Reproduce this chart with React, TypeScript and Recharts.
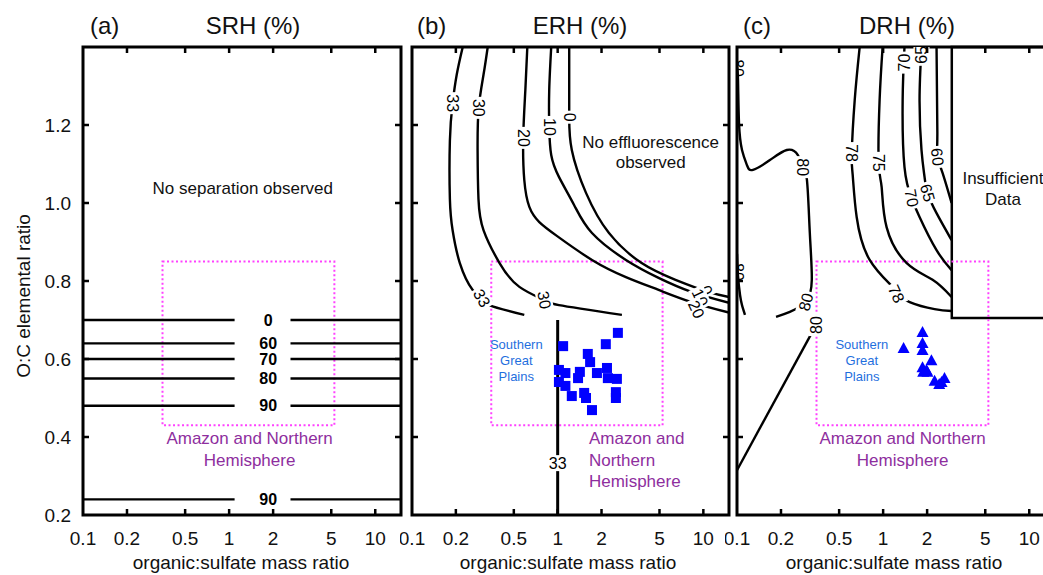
import React from "react";
import { ComposedChart, XAxis, YAxis, Line, Scatter, ReferenceArea } from "recharts";

type Pt = { x: number; y: number };
type Lbl = { x: number; y: number; t: string; a?: number };

// shared axes
const X_DOMAIN = [0.1, 15];
const Y_DOMAIN = [0.2, 1.4];
const X_TICKS = [0.1, 0.2, 0.5, 1, 2, 5, 10];
const Y_TICKS = [0.2, 0.4, 0.6, 0.8, 1.0, 1.2];

// "Amazon and Northern Hemisphere" range (dotted box)
const AMAZON_BOX = { x1: 0.35, x2: 5.25, y1: 0.43, y2: 0.85 };

// (a) SRH: flat contours, broken around the label
const srhLevels = [
  { t: "0", y: 0.7 },
  { t: "60", y: 0.64 },
  { t: "70", y: 0.6 },
  { t: "80", y: 0.55 },
  { t: "90", y: 0.48 },
  { t: "90", y: 0.24 },
];
const srhGap = [1.09, 2.63];
const srhLabelX = 1.85;

// (b) ERH contours
const erh33a: Pt[] = [
  { x: 0.223, y: 1.4 }, { x: 0.203, y: 1.33 }, { x: 0.19, y: 1.256 }, { x: 0.182, y: 1.16 },
  { x: 0.182, y: 1.01 }, { x: 0.19, y: 0.93 }, { x: 0.213, y: 0.846 }, { x: 0.261, y: 0.777 },
  { x: 0.301, y: 0.756 }, { x: 0.34, y: 0.738 }, { x: 0.59, y: 0.713 },
];
const erh30: Pt[] = [
  { x: 0.331, y: 1.4 }, { x: 0.31, y: 1.33 }, { x: 0.287, y: 1.244 }, { x: 0.282, y: 1.136 },
  { x: 0.286, y: 1.01 }, { x: 0.31, y: 0.93 }, { x: 0.399, y: 0.846 }, { x: 0.546, y: 0.785 },
  { x: 0.809, y: 0.751 }, { x: 1.02, y: 0.738 }, { x: 2.76, y: 0.713 },
];
const erh20: Pt[] = [
  { x: 0.619, y: 1.4 }, { x: 0.6, y: 1.29 }, { x: 0.58, y: 1.167 }, { x: 0.59, y: 1.059 },
  { x: 0.639, y: 0.99 }, { x: 0.748, y: 0.951 }, { x: 0.992, y: 0.915 }, { x: 1.72, y: 0.854 },
  { x: 2.94, y: 0.81 }, { x: 4.93, y: 0.777 }, { x: 8.28, y: 0.746 }, { x: 15, y: 0.719 },
];
const erh10: Pt[] = [
  { x: 0.903, y: 1.4 }, { x: 0.875, y: 1.29 }, { x: 0.875, y: 1.195 }, { x: 0.903, y: 1.123 },
  { x: 1.02, y: 1.067 }, { x: 1.296, y: 0.995 }, { x: 1.72, y: 0.923 }, { x: 2.94, y: 0.854 },
  { x: 4.93, y: 0.808 }, { x: 8.28, y: 0.772 }, { x: 15, y: 0.744 },
];
const erh0: Pt[] = [
  { x: 1.2, y: 1.4 }, { x: 1.2, y: 1.29 }, { x: 1.2, y: 1.22 }, { x: 1.25, y: 1.136 },
  { x: 1.565, y: 1.026 }, { x: 2.25, y: 0.923 }, { x: 3.77, y: 0.846 }, { x: 6.44, y: 0.803 },
  { x: 10.8, y: 0.772 }, { x: 15, y: 0.759 },
];
const erh33b: Pt[] = [{ x: 1.0, y: 0.7 }, { x: 1.0, y: 0.2 }];
const erhLabels: Lbl[] = [
  { x: 0.19, y: 1.256, t: "33", a: 90 },
  { x: 0.287, y: 1.244, t: "30", a: 90 },
  { x: 0.58, y: 1.167, t: "20", a: 90 },
  { x: 0.875, y: 1.195, t: "10", a: 90 },
  { x: 1.2, y: 1.22, t: "0", a: 90 },
  { x: 0.301, y: 0.756, t: "33", a: 60 },
  { x: 0.809, y: 0.751, t: "30", a: 80 },
  { x: 10.5, y: 0.776, t: "0", a: 65 },
  { x: 9.5, y: 0.757, t: "10", a: 65 },
  { x: 8.95, y: 0.727, t: "20", a: 65 },
  { x: 1.0, y: 0.333, t: "33", a: 0 },
];
const sgpSquares: Pt[] = [
  { x: 2.59, y: 0.667 }, { x: 1.09, y: 0.633 }, { x: 2.14, y: 0.638 }, { x: 1.61, y: 0.613 },
  { x: 1.67, y: 0.592 }, { x: 1.02, y: 0.572 }, { x: 1.13, y: 0.564 }, { x: 1.42, y: 0.567 },
  { x: 1.86, y: 0.564 }, { x: 2.18, y: 0.577 }, { x: 1.38, y: 0.551 }, { x: 2.21, y: 0.551 },
  { x: 2.55, y: 0.549 }, { x: 1.02, y: 0.541 }, { x: 1.13, y: 0.531 }, { x: 1.25, y: 0.505 },
  { x: 1.52, y: 0.513 }, { x: 1.565, y: 0.5 }, { x: 2.51, y: 0.515 }, { x: 2.51, y: 0.5 },
  { x: 1.72, y: 0.469 },
];

// (c) DRH contours
const drh80a: Pt[] = [
  { x: 0.1, y: 1.35 }, { x: 0.1016, y: 1.315 }, { x: 0.1032, y: 1.205 }, { x: 0.1082, y: 1.136 },
  { x: 0.117, y: 1.097 }, { x: 0.1286, y: 1.085 }, { x: 0.168, y: 1.11 }, { x: 0.219, y: 1.136 },
  { x: 0.261, y: 1.123 }, { x: 0.282, y: 1.092 }, { x: 0.301, y: 1.059 }, { x: 0.315, y: 0.923 },
  { x: 0.325, y: 0.803 }, { x: 0.296, y: 0.746 }, { x: 0.23, y: 0.721 }, { x: 0.185, y: 0.708 },
];
const drh80b: Pt[] = [
  { x: 0.1, y: 0.87 }, { x: 0.1016, y: 0.813 }, { x: 0.1049, y: 0.764 }, { x: 0.1082, y: 0.738 },
  { x: 0.1134, y: 0.713 },
];
const drh80c: Pt[] = [{ x: 0.1, y: 0.315 }, { x: 0.325, y: 0.667 }];
const drh78: Pt[] = [
  { x: 0.691, y: 1.4 }, { x: 0.639, y: 1.264 }, { x: 0.61, y: 1.128 }, { x: 0.619, y: 1.072 },
  { x: 0.659, y: 0.964 }, { x: 0.809, y: 0.854 }, { x: 1.161, y: 0.785 }, { x: 1.25, y: 0.767 },
  { x: 1.52, y: 0.746 }, { x: 2.25, y: 0.728 }, { x: 2.94, y: 0.723 },
];
const drh75: Pt[] = [
  { x: 0.992, y: 1.4 }, { x: 0.946, y: 1.264 }, { x: 0.932, y: 1.103 }, { x: 0.977, y: 1.041 },
  { x: 1.056, y: 0.938 }, { x: 1.45, y: 0.846 }, { x: 2.18, y: 0.803 }, { x: 2.94, y: 0.759 },
];
const drh70: Pt[] = [
  { x: 1.4, y: 1.4 }, { x: 1.36, y: 1.264 }, { x: 1.4, y: 1.092 }, { x: 1.565, y: 1.013 },
  { x: 1.775, y: 0.964 }, { x: 2.32, y: 0.879 }, { x: 2.94, y: 0.828 },
];
const drh65: Pt[] = [
  { x: 1.83, y: 1.4 }, { x: 1.775, y: 1.264 }, { x: 1.83, y: 1.136 }, { x: 1.92, y: 1.067 },
  { x: 2.01, y: 1.026 }, { x: 2.32, y: 0.974 }, { x: 2.94, y: 0.905 },
];
const drh60: Pt[] = [
  { x: 2.32, y: 1.4 }, { x: 2.35, y: 1.179 }, { x: 2.35, y: 1.118 }, { x: 2.55, y: 1.077 },
  { x: 2.94, y: 1.0 },
];
const drhLabels: Lbl[] = [
  { x: 0.282, y: 1.092, t: "80", a: 90 },
  { x: 0.296, y: 0.746, t: "80", a: -75 },
  { x: 0.351, y: 0.687, t: "80", a: -90 },
  { x: 0.61, y: 1.128, t: "78", a: 90 },
  { x: 1.23, y: 0.767, t: "78", a: 65 },
  { x: 0.932, y: 1.103, t: "75", a: 90 },
  { x: 1.4, y: 1.36, t: "70", a: -90 },
  { x: 1.565, y: 1.013, t: "70", a: 80 },
  { x: 1.83, y: 1.38, t: "65", a: -90 },
  { x: 2.01, y: 1.026, t: "65", a: 75 },
  { x: 2.35, y: 1.118, t: "60", a: 85 },
];
const drhEdgeLabels: Lbl[] = [
  { x: 0.1, y: 1.346, t: "80", a: 90 },
  { x: 0.1, y: 0.823, t: "80", a: 90 },
];
const insufficientBox = { x1: 2.95, x2: 15, y1: 0.705, y2: 1.4 };
const sgpTriangles: Pt[] = [
  { x: 1.86, y: 0.669 }, { x: 1.38, y: 0.628 }, { x: 1.86, y: 0.641 }, { x: 1.86, y: 0.623 },
  { x: 2.14, y: 0.597 }, { x: 1.86, y: 0.579 }, { x: 1.98, y: 0.572 }, { x: 1.88, y: 0.567 },
  { x: 2.01, y: 0.567 }, { x: 2.25, y: 0.544 }, { x: 2.51, y: 0.541 }, { x: 2.63, y: 0.551 },
  { x: 2.42, y: 0.536 },
];

// annotations
const noSepText: Lbl[] = [{ x: 1.24, y: 1.036, t: "No separation observed" }];
const amazonTextA: Lbl[] = [
  { x: 1.38, y: 0.395, t: "Amazon and Northern" },
  { x: 1.38, y: 0.341, t: "Hemisphere" },
];
const noEfflText: Lbl[] = [
  { x: 4.35, y: 1.156, t: "No effluorescence" },
  { x: 4.35, y: 1.103, t: "observed" },
];
const sgpTextB: Lbl[] = [
  { x: 0.52, y: 0.636, t: "Southern" },
  { x: 0.52, y: 0.595, t: "Great" },
  { x: 0.52, y: 0.556, t: "Plains" },
];
const amazonTextB: Lbl[] = [
  { x: 1.64, y: 0.395, t: "Amazon and" },
  { x: 1.64, y: 0.341, t: "Northern" },
  { x: 1.64, y: 0.287, t: "Hemisphere" },
];
const sgpTextC: Lbl[] = [
  { x: 0.715, y: 0.636, t: "Southern" },
  { x: 0.715, y: 0.595, t: "Great" },
  { x: 0.715, y: 0.556, t: "Plains" },
];
const amazonTextC: Lbl[] = [
  { x: 1.36, y: 0.395, t: "Amazon and Northern" },
  { x: 1.36, y: 0.341, t: "Hemisphere" },
];
const insufficientText: Lbl[] = [
  { x: 6.6, y: 1.064, t: "Insufficient" },
  { x: 6.6, y: 1.01, t: "Data" },
];

const PURPLE = "#8e2e9e";
const SGP_BLUE = "#1f6fde";
const MARK_BLUE = "#0000ff";
const MAGENTA = "#ff40ff";

// plot box in chart pixels (all charts share it vertically)
const PLOT_TOP = 47;
const PLOT_BOTTOM = 515;
const TICK_LEN = 6;

const textShape = (color: string, size: number, anchor: "start" | "middle" = "middle") =>
  (p: any) => (
    <text x={p.cx} y={p.cy} fill={color} fontSize={size} textAnchor={anchor} dominantBaseline="central">
      {p.payload.t}
    </text>
  );

const contourLabel = (bold: boolean, bg: boolean) => (p: any) => {
  const w = p.payload.t.length * 9 + 4;
  return (
    <g transform={`translate(${p.cx},${p.cy}) rotate(${p.payload.a || 0})`}>
      {bg && <rect x={-w / 2} y={-8} width={w} height={16} fill="#fff" />}
      <text textAnchor="middle" dominantBaseline="central" fontSize={16}
        fontWeight={bold ? 700 : 400} fill="#000">
        {p.payload.t}
      </text>
    </g>
  );
};

// labels sitting on the left frame, only their inner half shows
const edgeLabel = (p: any) => {
  const id = `edge-${Math.round(p.cx)}-${Math.round(p.cy)}`;
  return (
    <g>
      <defs>
        <clipPath id={id}>
          <rect x={p.cx + 1} y={p.cy - 20} width={30} height={40} />
        </clipPath>
      </defs>
      <g clipPath={`url(#${id})`}>
        <text x={p.cx} y={p.cy} textAnchor="middle" dominantBaseline="central" fontSize={16}
          transform={`rotate(${p.payload.a || 0} ${p.cx} ${p.cy})`} fill="#000">
          {p.payload.t}
        </text>
      </g>
    </g>
  );
};

const squareShape = (p: any) => <rect x={p.cx - 5} y={p.cy - 5} width={10} height={10} fill={MARK_BLUE} />;
const triangleShape = (p: any) => (
  <polygon points={`${p.cx},${p.cy - 6} ${p.cx - 6},${p.cy + 5} ${p.cx + 6},${p.cy + 5}`} fill={MARK_BLUE} />
);
const noTick = () => <g />;

// bottom tick label plus inward tick marks on the bottom and top frame
const xTick = (p: any) => {
  const v = p.payload.value;
  return (
    <g>
      {v > X_DOMAIN[0] && (
        <g stroke="#000" strokeWidth={2.5}>
          <line x1={p.x} x2={p.x} y1={PLOT_BOTTOM} y2={PLOT_BOTTOM - TICK_LEN} />
          <line x1={p.x} x2={p.x} y1={PLOT_TOP} y2={PLOT_TOP + TICK_LEN} />
        </g>
      )}
      <text x={p.x} y={p.y} dy="0.71em" textAnchor="middle" fontSize={19} fill="#111">{v}</text>
    </g>
  );
};

function axes(labelY: boolean) {
  const tl = { stroke: "#000", strokeWidth: 2.5 };
  return [
    <XAxis key="x" dataKey="x" type="number" scale="log" domain={X_DOMAIN} allowDataOverflow
      ticks={X_TICKS} interval={0} height={30} tickLine={false} axisLine={false} tickSize={0}
      tickMargin={17} tick={xTick} />,
    <YAxis key="y" dataKey="y" type="number" domain={Y_DOMAIN} allowDataOverflow ticks={Y_TICKS}
      interval={0} hide={!labelY} width={83} tickLine={false} axisLine={false} tickSize={0}
      tickMargin={12} tick={{ fontSize: 19, fill: "#111" }} tickFormatter={(v: number) => v.toFixed(1)} />,
    <YAxis key="yl" yAxisId="left" orientation="left" mirror type="number" domain={Y_DOMAIN}
      allowDataOverflow ticks={Y_TICKS.slice(1)} interval={0} tick={noTick} axisLine={false}
      tickLine={tl} tickSize={TICK_LEN} width={10} />,
    <YAxis key="yr" yAxisId="right" orientation="right" mirror type="number" domain={Y_DOMAIN}
      allowDataOverflow ticks={Y_TICKS.slice(1)} interval={0} tick={noTick} axisLine={false}
      tickLine={tl} tickSize={TICK_LEN} width={10} />,
  ];
}

const contour = (key: string, data: Pt[], w = 2.4) => (
  <Line key={key} data={data} dataKey="y" type="natural" stroke="#000" strokeWidth={w}
    dot={false} activeDot={false} isAnimationActive={false} />
);

const frame = (
  <ReferenceArea x1={0.1} x2={15} y1={0.2} y2={1.4} fill="none" stroke="#000" strokeWidth={3} ifOverflow="visible" />
);
const amazonBox = (
  <ReferenceArea {...AMAZON_BOX} fill="none" stroke={MAGENTA} strokeWidth={2} strokeDasharray="2 2.5" />
);

function PanelA() {
  return (
    <ComposedChart width={420} height={575} margin={{ top: PLOT_TOP, right: 19, bottom: 30, left: 0 }}>
      {axes(true)}
      {amazonBox}
      {srhLevels.map((l, i) =>
        contour(`l${i}`, [{ x: 0.1, y: l.y }, { x: srhGap[0], y: l.y }]))}
      {srhLevels.map((l, i) =>
        contour(`r${i}`, [{ x: srhGap[1], y: l.y }, { x: 15, y: l.y }]))}
      <Scatter data={srhLevels.map((l) => ({ x: srhLabelX, y: l.y, t: l.t }))}
        shape={contourLabel(true, false)} isAnimationActive={false} />
      <Scatter data={noSepText} shape={textShape("#111", 17)} isAnimationActive={false} />
      <Scatter data={amazonTextA} shape={textShape(PURPLE, 17)} isAnimationActive={false} />
      {frame}
    </ComposedChart>
  );
}

function PanelB() {
  return (
    <ComposedChart width={340} height={575} margin={{ top: PLOT_TOP, right: 11, bottom: 30, left: 12 }}>
      {axes(false)}
      {amazonBox}
      {contour("c33a", erh33a)}
      {contour("c30", erh30)}
      {contour("c20", erh20)}
      {contour("c10", erh10)}
      {contour("c0", erh0)}
      {contour("c33b", erh33b, 3)}
      <Scatter data={erhLabels} shape={contourLabel(false, true)} isAnimationActive={false} />
      <Scatter data={sgpSquares} shape={squareShape} isAnimationActive={false} />
      <Scatter data={noEfflText} shape={textShape("#111", 17)} isAnimationActive={false} />
      <Scatter data={sgpTextB} shape={textShape(SGP_BLUE, 13)} isAnimationActive={false} />
      <Scatter data={amazonTextB} shape={textShape(PURPLE, 17, "start")} isAnimationActive={false} />
      {frame}
    </ComposedChart>
  );
}

function PanelC() {
  return (
    <ComposedChart width={340} height={575} margin={{ top: PLOT_TOP, right: 10, bottom: 30, left: 12 }}>
      {axes(false)}
      {contour("d80a", drh80a)}
      {contour("d80b", drh80b)}
      {contour("d80c", drh80c)}
      {contour("d78", drh78)}
      {contour("d75", drh75)}
      {contour("d70", drh70)}
      {contour("d65", drh65)}
      {contour("d60", drh60)}
      <ReferenceArea {...insufficientBox} fill="#fff" fillOpacity={1} stroke="#000" strokeWidth={2.5} />
      {amazonBox}
      <Scatter data={drhLabels} shape={contourLabel(false, true)} isAnimationActive={false} />
      <Scatter data={drhEdgeLabels} shape={edgeLabel} isAnimationActive={false} />
      <Scatter data={sgpTriangles} shape={triangleShape} isAnimationActive={false} />
      <Scatter data={sgpTextC} shape={textShape(SGP_BLUE, 13)} isAnimationActive={false} />
      <Scatter data={amazonTextC} shape={textShape(PURPLE, 17)} isAnimationActive={false} />
      <Scatter data={insufficientText} shape={textShape("#111", 17)} isAnimationActive={false} />
      {frame}
    </ComposedChart>
  );
}

export default function App() {
  const xTitle = "organic:sulfate mass ratio";
  return (
    <div style={{ position: "fixed", left: 0, top: 0, width: 1043, height: 575, overflow: "hidden",
      background: "#fff", fontFamily: "'Liberation Sans', Arial, sans-serif" }}>
      <div style={{ position: "absolute", left: 0, top: 0 }}><PanelA /></div>
      <div style={{ position: "absolute", left: 400, top: 0 }}><PanelB /></div>
      <div style={{ position: "absolute", left: 725, top: 0 }}><PanelC /></div>
      <svg width={1043} height={575} style={{ position: "absolute", left: 0, top: 0, pointerEvents: "none" }}>
        <g fontSize={24} fill="#111">
          <text x={90} y={34}>(a)</text>
          <text x={253} y={34} textAnchor="middle">SRH (%)</text>
          <text x={417} y={34}>(b)</text>
          <text x={580} y={34} textAnchor="middle">ERH (%)</text>
          <text x={743} y={34}>(c)</text>
          <text x={907} y={34} textAnchor="middle">DRH (%)</text>
        </g>
        <g fontSize={19} fill="#111" textAnchor="middle">
          <text x={241} y={569}>{xTitle}</text>
          <text x={568} y={569}>{xTitle}</text>
          <text x={894} y={569}>{xTitle}</text>
          <text transform="translate(30,296) rotate(-90)">O:C elemental ratio</text>
        </g>
      </svg>
    </div>
  );
}
